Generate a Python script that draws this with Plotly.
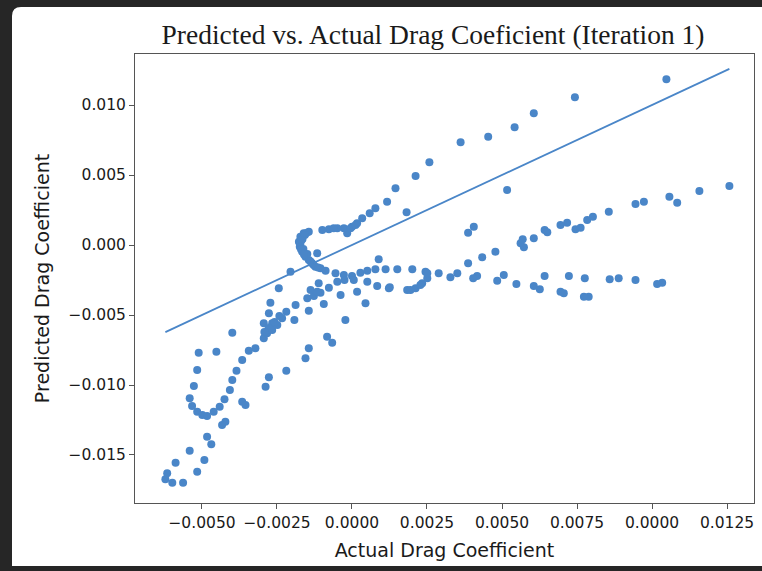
import plotly.graph_objects as go

# Actual vs. predicted drag coefficient samples
actual_cd = [
    # upper branch
    0.01048, 0.00743, 0.00606, 0.00542, 0.00454, 0.00362, 0.00258, 0.00212, 0.00145, 0.00117,
    0.00182, 0.00078, 0.00059, 0.00034, 0.00017, 0.00000, -0.00016, -0.00027, -0.00049, -0.00077,
    -0.00099, -0.00005, 0.00012, -0.00061,
    # hook near the origin
    -0.00144, -0.00161, -0.00172, -0.00177, -0.00174, -0.00166, -0.00155, -0.00144, -0.00133, -0.00122,
    -0.00105, -0.00088, -0.00152, -0.00165, -0.00172, -0.00162, -0.00149, -0.00116, -0.00205, -0.00244,
    -0.00157, -0.00168, -0.00170, -0.00160, -0.00138, -0.00128, -0.00113,
    # middle flat band
    -0.00055, -0.00027, 0.00000, 0.00028, 0.00051, 0.00078, 0.00112, 0.00151, 0.00201, 0.00245,
    0.00289, 0.00089, 0.00351, 0.00417, 0.00404, 0.00506, 0.00484, 0.00642, 0.00723, 0.00776,
    0.00859, 0.00889, 0.00945, 0.01034, 0.01017,
    # lower flat band
    -0.00111, -0.00077, -0.00049, -0.00025, 0.00006, 0.00051, 0.00084, 0.00123, 0.00184, 0.00212,
    0.00234, 0.00251, 0.00195, 0.00228, 0.00606, 0.00626, 0.00548, 0.00706, 0.00695, 0.00789,
    0.00773,
    # rising band
    0.00251, 0.00328, 0.00387, 0.00434, 0.00478, 0.00562, 0.00569, 0.00573, 0.00606, 0.00642,
    0.00651, 0.00695, 0.00717, 0.00745, 0.00762, 0.00784, 0.00803, 0.00856, 0.00945, 0.00973,
    0.01058, 0.01084, 0.01158, 0.01258, 0.00517, 0.00387, 0.00406,
    # lower-left region
    -0.00149, -0.00127, -0.00105, -0.00138, -0.00116, -0.00188, -0.00219, -0.00094, -0.00144, -0.00038,
    0.00017, 0.00045, 0.00126, -0.00272, -0.00277, -0.00294, -0.00266, -0.00294, -0.00283, -0.00266,
    -0.00249, -0.00233, -0.00192, -0.00278, -0.00258, -0.00242, -0.00292, -0.00399, -0.00322, -0.00344,
    -0.00366, -0.00452, -0.00511, -0.00516, -0.00385, -0.00399, -0.00407, -0.00425, -0.00441, -0.00461,
    -0.00527, -0.00541, -0.00533, -0.00516, -0.00499, -0.00483, -0.00366, -0.00355, -0.00277, -0.00288,
    -0.00219, -0.00155, -0.00144, -0.00083, -0.00066, -0.00022, -0.00422, -0.00433, -0.00483, -0.00469,
    -0.00541, -0.00492, -0.00588, -0.00516, -0.00616, -0.00622, -0.00599, -0.00563,
]

predicted_cd = [
    # upper branch
    0.01184, 0.01055, 0.00941, 0.00841, 0.00774, 0.00734, 0.00591, 0.00493, 0.00405, 0.00309,
    0.00234, 0.00262, 0.00226, 0.00191, 0.00155, 0.00131, 0.00084, 0.00119, 0.00119, 0.00112,
    0.00107, 0.00119, 0.00143, 0.00119,
    # hook near the origin
    0.00095, 0.00084, 0.00059, 0.00024, -0.00012, -0.00048, -0.00084, -0.00107, -0.00131, -0.00155,
    -0.00166, -0.00184, 0.00086, 0.00043, 0.00007, -0.00029, -0.00064, -0.00059, -0.00191, -0.00309,
    0.00072, 0.00036, -0.00030, -0.00068, -0.00118, -0.00142, -0.00160,
    # middle flat band
    -0.00202, -0.00214, -0.00221, -0.00198, -0.00184, -0.00174, -0.00174, -0.00174, -0.00174, -0.00191,
    -0.00202, -0.00102, -0.00202, -0.00221, -0.00238, -0.00214, -0.00255, -0.00221, -0.00221, -0.00238,
    -0.00245, -0.00238, -0.00250, -0.00269, -0.00279,
    # lower flat band
    -0.00274, -0.00305, -0.00262, -0.00250, -0.00250, -0.00262, -0.00293, -0.00309, -0.00321, -0.00309,
    -0.00274, -0.00238, -0.00321, -0.00286, -0.00293, -0.00316, -0.00279, -0.00345, -0.00334, -0.00369,
    -0.00369,
    # rising band
    -0.00202, -0.00231, -0.00131, -0.00088, -0.00048, 0.00012, 0.00041, -0.00016, 0.00048, 0.00107,
    0.00091, 0.00143, 0.00159, 0.00112, 0.00124, 0.00179, 0.00202, 0.00238, 0.00293, 0.00309,
    0.00345, 0.00302, 0.00386, 0.00421, 0.00393, 0.00088, 0.00131,
    # lower-left region
    -0.00381, -0.00364, -0.00341, -0.00321, -0.00334, -0.00429, -0.00476, -0.00421, -0.00469, -0.00357,
    -0.00334, -0.00416, -0.00302, -0.00412, -0.00488, -0.00559, -0.00559, -0.00666, -0.00631, -0.00607,
    -0.00571, -0.00524, -0.00536, -0.00593, -0.00550, -0.00507, -0.00621, -0.00626, -0.00738, -0.00755,
    -0.00821, -0.00762, -0.00769, -0.00893, -0.00898, -0.00964, -0.01036, -0.01102, -0.01155, -0.01191,
    -0.01007, -0.01095, -0.01150, -0.01191, -0.01214, -0.01221, -0.01119, -0.01143, -0.00945, -0.01012,
    -0.00898, -0.00809, -0.00738, -0.00655, -0.00698, -0.00536, -0.01262, -0.01286, -0.01369, -0.01424,
    -0.01469, -0.01536, -0.01555, -0.01619, -0.01631, -0.01674, -0.01698, -0.01698,
]

x_tickvals = [-0.005, -0.0025, 0.0, 0.0025, 0.005, 0.0075, 0.01, 0.0125]
x_ticktext = ["\u22120.0050", "\u22120.0025", "0.0000", "0.0025", "0.0050", "0.0075", "0.0000", "0.0125"]
y_tickvals = [0.010, 0.005, 0.0, -0.005, -0.010, -0.015]
y_ticktext = ["0.010", "0.005", "0.000", "\u22120.005", "\u22120.010", "\u22120.015"]

BLUE = "#4a86c8"
W, H = 762, 571
L, R, T, B = 135, 8, 54, 68

# y = x reference line over the range of actual values
lo, hi = min(actual_cd), max(actual_cd)

fig = go.Figure()
fig.add_trace(go.Scatter(
    x=actual_cd, y=predicted_cd, mode="markers",
    marker=dict(size=8, color=BLUE, line=dict(width=0)),
    showlegend=False,
))
fig.add_trace(go.Scatter(
    x=[lo, hi], y=[lo, hi], mode="lines",
    line=dict(color=BLUE, width=1.8),
    showlegend=False,
))


def px_x(p):
    return (p - L) / (W - L - R)


def px_y(p):
    return (H - B - p) / (H - T - B)


# white card with rounded top-left corner on a dark backdrop
x0, x1 = px_x(12), px_x(775)
yt, yb = px_y(7), px_y(566)
rx, ry = 9 / (W - L - R), 9 / (H - T - B)
card = (f"M {x0},{yb} L {x0},{yt - ry} Q {x0},{yt} {x0 + rx},{yt} "
        f"L {x1},{yt} L {x1},{yb} Z")

axis_common = dict(
    showgrid=False, zeroline=False, showline=True, mirror=True,
    linecolor="#555555", linewidth=1,
    ticks="outside", ticklen=5, tickcolor="#555555", tickwidth=1,
    tickfont=dict(family="DejaVu Sans", size=15.5, color="#1a1a1a"),
)

fig.update_layout(
    width=W, height=H,
    margin=dict(l=L, r=R, t=T, b=B, autoexpand=False),
    paper_bgcolor="#262626",
    plot_bgcolor="white",
    shapes=[dict(type="path", path=card, xref="paper", yref="paper",
                 fillcolor="white", line=dict(width=0), layer="below")],
    title=dict(
        text="Predicted vs. Actual Drag Coeficient (Iteration 1)",
        font=dict(family="Liberation Serif", size=27.5, color="#1a1a1a"),
        x=433 / W, xanchor="center", xref="container",
        y=1 - 34 / H, yanchor="middle", yref="container",
    ),
    xaxis=dict(
        **axis_common,
        range=[-0.007233, 0.0134],
        tickvals=x_tickvals, ticktext=x_ticktext,
        title=dict(text="Actual Drag Coefficient", standoff=13,
                   font=dict(family="DejaVu Sans", size=19, color="#1a1a1a")),
    ),
    yaxis=dict(
        **axis_common,
        range=[-0.018429, 0.013643],
        tickvals=y_tickvals, ticktext=y_ticktext,
        title=dict(text="Predicted Drag Coefficient", standoff=13,
                   font=dict(family="DejaVu Sans", size=19, color="#1a1a1a")),
    ),
)

fig.write_html("out.html")
